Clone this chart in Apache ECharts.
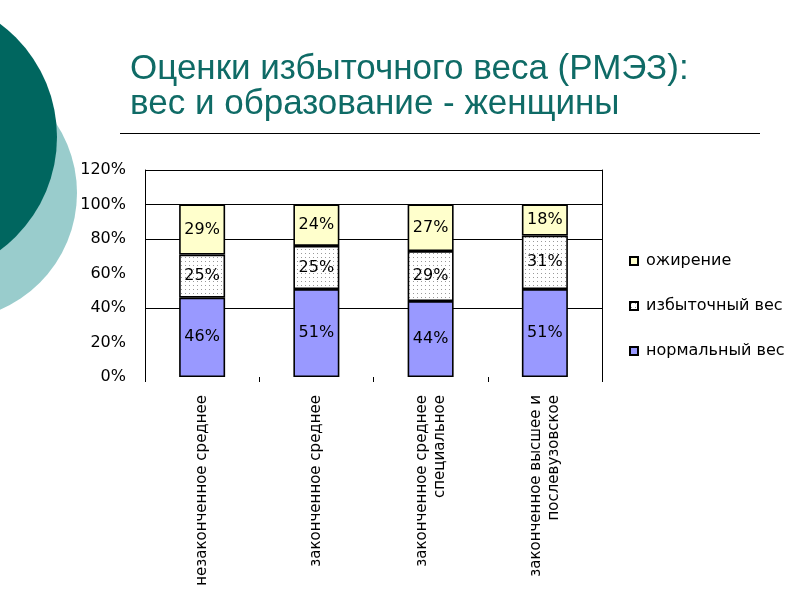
<!DOCTYPE html>
<html><head><meta charset="utf-8">
<script src="https://cdn.jsdelivr.net/npm/echarts@6/dist/echarts.min.js"></script>
<style>html,body{margin:0;padding:0;background:#fff}#c{width:800px;height:600px}</style>
</head><body><div id="c"></div>
<script>
const categories = ['незаконченное среднее', 'законченное среднее', 'законченное среднее\nспециальное', 'законченное высшее и\nпослевузовское'];
const seriesNames = ['нормальный вес', 'избыточный вес', 'ожирение'];
const normalWeight = [46, 51, 44, 51];
const overWeight = [25, 25, 29, 31];
const obesity = [29, 24, 27, 18];
const yTickValues = [0, 20, 40, 60, 80, 100, 120];
const gridLineValues = [40, 80, 100, 120];
const titleLines = ['Оценки избыточного веса (РМЭЗ):', 'вес и образование - женщины'];

const pat = document.createElement('canvas');
pat.width = 4; pat.height = 4;
const pc = pat.getContext('2d');
pc.fillStyle = '#fff'; pc.fillRect(0, 0, 4, 4);
pc.fillStyle = '#999'; pc.fillRect(1, 1, 1, 1);

const chart = echarts.init(document.getElementById('c'));
const FONT = 'DejaVu Sans';
const labelOpt = { show: true, position: 'inside', color: '#000', fontSize: 16, fontFamily: FONT, formatter: '{c}%' };
const border = { borderColor: '#000', borderWidth: 1.6 };

chart.setOption({
  backgroundColor: '#fff',
  animation: false,
  title: {
    text: titleLines.join('\n'),
    left: 125, top: 47,
    textStyle: { color: '#0F6B66', fontSize: 35, fontWeight: 'normal', fontFamily: 'Liberation Sans', lineHeight: 35 }
  },
  graphic: [
    { type: 'circle', shape: { cx: -50, cy: 193, r: 127 }, style: { fill: '#99CCCC' }, z: -10 },
    { type: 'circle', shape: { cx: -84, cy: 137, r: 141 }, style: { fill: '#00665F' }, z: -9 },
    { type: 'line', shape: { x1: 120, y1: 133.5, x2: 760, y2: 133.5 }, style: { stroke: '#000', lineWidth: 1 } }
  ],
  legend: {
    orient: 'vertical', left: 624, top: 248,
    data: [seriesNames[2], seriesNames[1], seriesNames[0]],
    itemWidth: 8, itemHeight: 8, itemGap: 29,
    icon: 'rect',
    textStyle: { fontSize: 16, fontFamily: FONT, color: '#000', padding: [0, 0, 0, 3] }
  },
  grid: { left: 145, right: 198, top: 170, bottom: 223 },
  xAxis: {
    type: 'category', data: categories,
    axisLine: { show: false },
    axisTick: { show: true, length: 5, lineStyle: { color: '#000' } },
    axisLabel: { rotate: 90, margin: 18, fontSize: 15, fontFamily: FONT, color: '#000', lineHeight: 18 }
  },
  yAxis: [
    {
      type: 'value', min: 0, max: 120, interval: 20,
      axisLine: { show: true, lineStyle: { color: '#000', width: 1 } },
      axisTick: { show: false }, splitLine: { show: false },
      axisLabel: { formatter: '{value}%', fontSize: 16, fontFamily: FONT, color: '#000', margin: 19,
        customValues: yTickValues }
    },
    {
      type: 'value', min: 0, max: 120, interval: 20, position: 'right',
      axisLine: { show: true, lineStyle: { color: '#000', width: 1 } },
      axisTick: { show: false }, splitLine: { show: false }, axisLabel: { show: false }
    }
  ],
  series: [
    {
      name: seriesNames[0], type: 'bar', stack: 's', barWidth: 46, z: 10, data: normalWeight,
      itemStyle: Object.assign({ color: '#9999FF' }, border), label: labelOpt,
      markLine: {
        silent: true, symbol: 'none', z: 1, label: { show: false },
        lineStyle: { color: '#000', width: 1, type: 'solid' },
        data: gridLineValues.map(v => ({ yAxis: v }))
      }
    },
    {
      name: seriesNames[1], type: 'bar', stack: 's', barWidth: 46, z: 10, data: overWeight,
      itemStyle: Object.assign({ color: { image: pat, repeat: 'repeat' } }, border), label: labelOpt
    },
    {
      name: seriesNames[2], type: 'bar', stack: 's', barWidth: 46, z: 10, data: obesity,
      itemStyle: Object.assign({ color: '#FFFFCC' }, border), label: labelOpt
    }
  ]
});
</script></body></html>
